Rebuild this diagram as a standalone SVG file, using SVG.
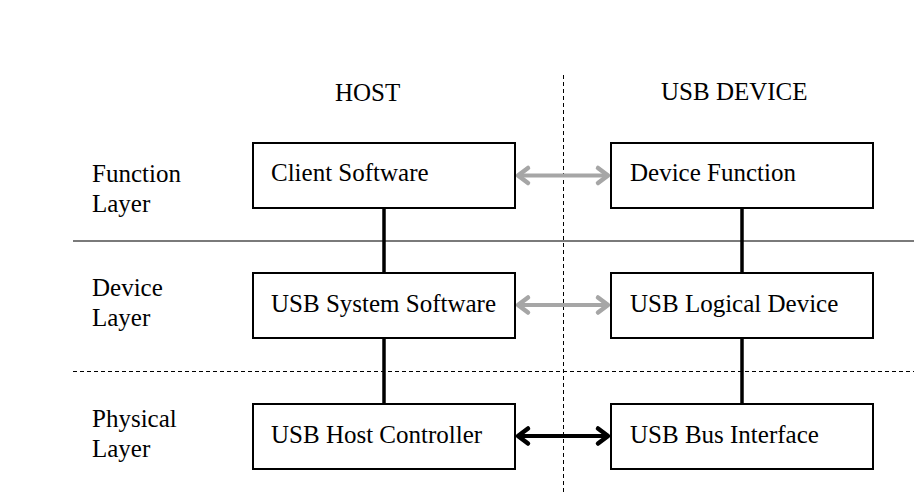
<svg xmlns="http://www.w3.org/2000/svg" width="914" height="494" viewBox="0 0 914 494">
  <style>
    text { font-family: "Liberation Serif", "DejaVu Serif", serif; font-size: 25px; fill: #000; }
    .box { fill: #fff; stroke: #000; stroke-width: 2; }
    .link { stroke: #000; stroke-width: 3.5; fill: none; }
    .msg-soft { stroke: #a6a6a6; stroke-width: 4; fill: none; }
    .msg-hard { stroke: #000; stroke-width: 4; fill: none; }
    .divider-solid { stroke: #7a7a7a; stroke-width: 2; }
    .divider-dash { stroke: #000; stroke-width: 1; stroke-dasharray: 4 3; }
  </style>
  <defs>
    <marker id="chev-gray" markerUnits="userSpaceOnUse" markerWidth="20" markerHeight="20" refX="0" refY="0" orient="auto-start-reverse" overflow="visible">
      <path d="M-10,-7.5 L0,0 L-10,7.5" fill="none" stroke="#a6a6a6" stroke-width="4.5" stroke-linecap="round" stroke-linejoin="round"/>
    </marker>
    <marker id="chev-black" markerUnits="userSpaceOnUse" markerWidth="20" markerHeight="20" refX="0" refY="0" orient="auto-start-reverse" overflow="visible">
      <path d="M-10,-7.5 L0,0 L-10,7.5" fill="none" stroke="#000" stroke-width="4.5" stroke-linecap="round" stroke-linejoin="round"/>
    </marker>
  </defs>

  <rect width="914" height="494" fill="#fff"/>

  <!-- layer dividers and host/device separator -->
  <g id="dividers">
    <line class="divider-solid" x1="73" y1="241" x2="914" y2="241"/>
    <line class="divider-dash" x1="73" y1="371.5" x2="914" y2="371.5"/>
    <line class="divider-dash" x1="563.5" y1="75" x2="563.5" y2="494"/>
  </g>

  <!-- column and row headings -->
  <g id="headings">
    <text x="335" y="101">HOST</text>
    <text x="661" y="100">USB DEVICE</text>
    <text x="92" y="182">Function</text>
    <text x="92" y="212">Layer</text>
    <text x="92" y="296">Device</text>
    <text x="92" y="326">Layer</text>
    <text x="92" y="427">Physical</text>
    <text x="92" y="457">Layer</text>
  </g>

  <!-- connectors -->
  <g id="connectors">
    <line class="link" x1="384" y1="208" x2="384" y2="273"/>
    <line class="link" x1="384" y1="338" x2="384" y2="404"/>
    <line class="link" x1="742" y1="208" x2="742" y2="273"/>
    <line class="link" x1="742" y1="338" x2="742" y2="404"/>
    <line class="msg-soft" x1="518" y1="175.5" x2="608" y2="175.5" marker-start="url(#chev-gray)" marker-end="url(#chev-gray)"/>
    <line class="msg-soft" x1="518" y1="305" x2="608" y2="305" marker-start="url(#chev-gray)" marker-end="url(#chev-gray)"/>
    <line class="msg-hard" x1="518" y1="436" x2="608" y2="436" marker-start="url(#chev-black)" marker-end="url(#chev-black)"/>
  </g>

  <!-- host side -->
  <g id="client-software">
    <rect class="box" x="253" y="143" width="262" height="65"/>
    <text x="271" y="181">Client Software</text>
  </g>
  <g id="usb-system-software">
    <rect class="box" x="253" y="273" width="262" height="65"/>
    <text x="271" y="312">USB System Software</text>
  </g>
  <g id="usb-host-controller">
    <rect class="box" x="253" y="404" width="262" height="65"/>
    <text x="271" y="443">USB Host Controller</text>
  </g>

  <!-- device side -->
  <g id="device-function">
    <rect class="box" x="611" y="143" width="262" height="65"/>
    <text x="630" y="181">Device Function</text>
  </g>
  <g id="usb-logical-device">
    <rect class="box" x="611" y="273" width="262" height="65"/>
    <text x="630" y="312">USB Logical Device</text>
  </g>
  <g id="usb-bus-interface">
    <rect class="box" x="611" y="404" width="262" height="65"/>
    <text x="630" y="443">USB Bus Interface</text>
  </g>
</svg>
